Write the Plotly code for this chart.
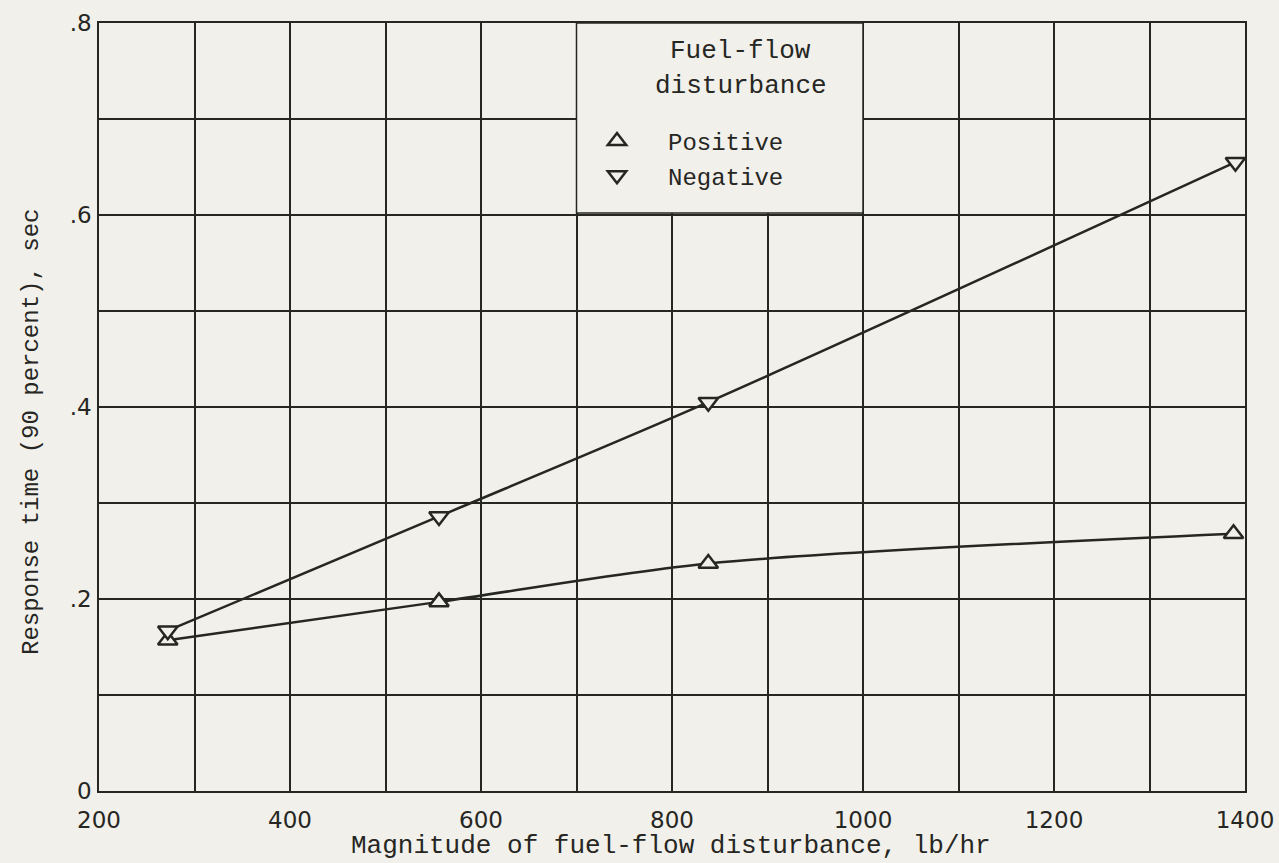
import plotly.graph_objects as go

# Response time vs magnitude of fuel-flow disturbance
flow_pos = [272, 556, 838, 1388]
time_pos = [0.157, 0.197, 0.237, 0.268]

flow_neg = [272, 556, 838, 1390]
time_neg = [0.167, 0.286, 0.405, 0.655]

x_tickvals = list(range(200, 1401, 100))
x_ticktext = [str(v) if v % 200 == 0 else "" for v in x_tickvals]
y_tickvals = [round(0.1 * i, 1) for i in range(0, 9)]
y_ticktext = ["0", "", ".2", "", ".4", "", ".6", "", ".8"]

ink = "#262623"
paper = "#f1f0eb"
mono = "Liberation Mono, DejaVu Sans Mono, monospace"
letter = "DejaVu Sans, Liberation Sans, sans-serif"

# plot-area geometry in pixels (used for placing titles)
L, R, T, B = 99, 34, 23, 72
W, H = 1279, 863
pw, ph = W - L - R, H - T - B

fig = go.Figure()

# curves
for xs, ys in [(flow_pos, time_pos), (flow_neg, time_neg)]:
    fig.add_trace(go.Scatter(
        x=xs, y=ys, mode="lines", line=dict(color=ink, width=2.5, shape="spline", smoothing=0.8),
        showlegend=False, hoverinfo="skip"))

# open symbols on top of the curves
fig.add_trace(go.Scatter(
    x=flow_pos, y=time_pos, mode="markers", name="Positive",
    marker=dict(symbol="triangle-up", size=17, color=paper, line=dict(color=ink, width=2.5)),
    showlegend=True))
fig.add_trace(go.Scatter(
    x=flow_neg, y=time_neg, mode="markers", name="Negative",
    marker=dict(symbol="triangle-down", size=17, color=paper, line=dict(color=ink, width=2.5)),
    showlegend=True))

# legend panel
fig.add_shape(type="rect", xref="x", yref="y", x0=700, x1=1000, y0=0.602, y1=0.8,
              line=dict(color=ink, width=1.5), fillcolor=paper, layer="above")
fig.add_annotation(xref="x", yref="y", x=872, y=0.8 - 28 / 960, text="Fuel-flow",
                   showarrow=False, font=dict(family=mono, size=26, color=ink))
fig.add_annotation(xref="x", yref="y", x=872, y=0.8 - 63 / 960, text="disturbance",
                   showarrow=False, font=dict(family=mono, size=26, color=ink))

# axis titles
fig.add_annotation(xref="paper", yref="paper", x=(671 - L) / pw, y=-(846 - (T + ph)) / ph,
                   xanchor="center", yanchor="middle", showarrow=False,
                   text="Magnitude of fuel-flow disturbance, lb/hr",
                   font=dict(family=mono, size=26, color=ink))
fig.add_annotation(xref="paper", yref="paper", x=(32 - L) / pw, y=(T + ph - 432) / ph,
                   xanchor="center", yanchor="middle", showarrow=False, textangle=-90,
                   text="Response time (90 percent), sec",
                   font=dict(family=mono, size=24, color=ink))

fig.update_layout(
    width=W, height=H,
    margin=dict(l=L, r=R, t=T, b=B, autoexpand=False),
    paper_bgcolor=paper, plot_bgcolor=paper,
    showlegend=True,
    legend=dict(x=(566 - L) / pw, y=1 - (119 - T) / ph, xanchor="left", yanchor="top",
                bgcolor="rgba(0,0,0,0)", borderwidth=0, itemwidth=92,
                font=dict(family=mono, size=24, color=ink), tracegroupgap=0),
    xaxis=dict(range=[200, 1400], tickvals=x_tickvals, ticktext=x_ticktext,
               showgrid=True, gridcolor=ink, gridwidth=1.5, zeroline=False,
               showline=True, linecolor=ink, linewidth=1.5, mirror=True, ticks="",
               ticklabelstandoff=8, automargin=False,
               tickfont=dict(family=letter, size=23, color=ink)),
    yaxis=dict(range=[0, 0.8], tickvals=y_tickvals, ticktext=y_ticktext,
               showgrid=True, gridcolor=ink, gridwidth=1.5, zeroline=False,
               showline=True, linecolor=ink, linewidth=1.5, mirror=True, ticks="",
               ticklabelstandoff=1, automargin=False,
               tickfont=dict(family=letter, size=23, color=ink)),
)

fig.write_html("out.html")
